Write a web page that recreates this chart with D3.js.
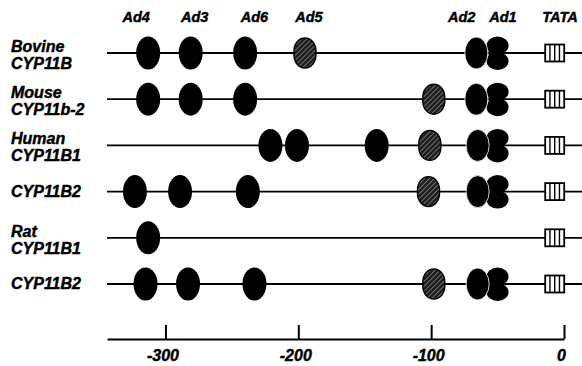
<!DOCTYPE html>
<html>
<head>
<meta charset="utf-8">
<script src="https://cdn.jsdelivr.net/npm/d3@7"></script>
<style>
  body { margin: 0; background: #fff; }
  text { font-family: "Liberation Sans", Arial, sans-serif; font-weight: bold; font-style: italic; fill: #000; stroke: #000; stroke-width: 0.45px; }
</style>
</head>
<body>
<script>
// promoter rows, top to bottom
const rowNames = ["Bovine CYP11B", "Mouse CYP11b-2", "Human CYP11B1", "Human CYP11B2", "Rat CYP11B1", "Rat CYP11B2"];
const rowLabelLines = [["Bovine", "CYP11B"], ["Mouse", "CYP11b-2"], ["Human", "CYP11B1"], ["CYP11B2"], ["Rat", "CYP11B1"], ["CYP11B2"]];

// element positions in bp upstream of the start site
const solidSites = [[-313, -281, -240], [-313, -281, -240], [-221, -201, -141], [-323, -289, -238], [-313], [-315, -283, -233]];
const hatchedSites = [[-195], [-98], [-101], [-102], [], [-98]];
const ad2Sites = [-66, -66, -65, -65, null, -65];
const ad1Sites = [-50, -50, -50, -50, null, -50];
const tataSites = [-7, -7, -7, -7, -7, -7];

const siteLabels = ["Ad4", "Ad3", "Ad6", "Ad5", "Ad2", "Ad1", "TATA"];
const siteLabelPos = [-322, -278, -233, -192, -77, -46, -3];

const axisTicks = [-300, -200, -100, 0];
const bpDomain = [-344, 0];

const width = 582;
const height = 366;

const svg = d3.select('body').append('svg')
  .attr('width', width)
  .attr('height', height);

const x = d3.scaleLinear().domain(bpDomain).range([107, 564]);
const y = d3.scalePoint().domain(rowNames).range([53, 284]);

// hatch pattern for Ad5-type elements
const defs = svg.append('defs');
const pat = defs.append('pattern')
  .attr('id', 'hatch')
  .attr('patternUnits', 'userSpaceOnUse')
  .attr('width', 3.5)
  .attr('height', 3.5)
  .attr('patternTransform', 'rotate(45)');
pat.append('rect').attr('width', 3.5).attr('height', 3.5).attr('fill', '#1e1e1e');
pat.append('line')
  .attr('x1', 0).attr('y1', 0).attr('x2', 0).attr('y2', 3.5)
  .attr('stroke', '#bdbdbd').attr('stroke-width', 1);

// top labels
svg.append('g').selectAll('text')
  .data(siteLabels)
  .enter().append('text')
  .attr('x', (d, i) => x(siteLabelPos[i]))
  .attr('y', 22)
  .attr('text-anchor', 'middle')
  .attr('font-size', 14.5)
  .text(d => d);

const rows = svg.append('g').selectAll('.row')
  .data(rowNames)
  .enter().append('g')
  .attr('class', 'row')
  .attr('transform', d => `translate(0,${y(d)})`);

// row labels
rows.append('text')
  .attr('font-size', 16)
  .each(function(d, i) {
    const lines = rowLabelLines[i];
    const t = d3.select(this);
    lines.forEach((s, j) => {
      t.append('tspan')
        .attr('x', 11)
        .attr('y', lines.length === 1 ? 5 : (j === 0 ? -1 : 16))
        .text(s);
    });
  });

// baseline
rows.append('line')
  .attr('x1', x(bpDomain[0]))
  .attr('x2', width)
  .attr('stroke', '#000')
  .attr('stroke-width', 1.8);

rows.each(function(d, i) {
  const g = d3.select(this);

  // solid sites
  g.selectAll('.solid')
    .data(solidSites[i])
    .enter().append('ellipse')
    .attr('class', 'solid')
    .attr('cx', v => x(v))
    .attr('rx', 12)
    .attr('ry', 16.5)
    .attr('fill', '#000');

  // hatched sites
  g.selectAll('.hatched')
    .data(hatchedSites[i])
    .enter().append('rect')
    .attr('class', 'hatched')
    .attr('x', v => x(v) - 11)
    .attr('y', -15)
    .attr('width', 22)
    .attr('height', 30)
    .attr('rx', 11)
    .attr('ry', 13)
    .attr('fill', 'url(#hatch)')
    .attr('stroke', '#000')
    .attr('stroke-width', 1.4);

  if (ad1Sites[i] != null) {
    const cx = x(ad1Sites[i]);
    g.append('ellipse').attr('cx', cx).attr('cy', -7.5).attr('rx', 11).attr('ry', 9).attr('fill', '#000');
    g.append('ellipse').attr('cx', cx).attr('cy', 8).attr('rx', 11).attr('ry', 9).attr('fill', '#000');
    g.append('rect').attr('x', cx - 9).attr('y', -4).attr('width', 14).attr('height', 8).attr('fill', '#000');
  }
  if (ad2Sites[i] != null) {
    g.append('ellipse')
      .attr('cx', x(ad2Sites[i]))
      .attr('rx', 11.5)
      .attr('ry', 16)
      .attr('fill', '#000')
      .attr('stroke', '#fff')
      .attr('stroke-width', 0.8);
  }

  // TATA box
  const tx = x(tataSites[i]);
  const box = g.append('g').attr('transform', `translate(${tx - 9.5},-8.5)`);
  box.append('rect')
    .attr('width', 19)
    .attr('height', 17)
    .attr('fill', '#fff')
    .attr('stroke', '#000')
    .attr('stroke-width', 1.8);
  box.selectAll('line')
    .data([1, 2, 3])
    .enter().append('line')
    .attr('x1', k => k * 19 / 4)
    .attr('x2', k => k * 19 / 4)
    .attr('y1', 0)
    .attr('y2', 17)
    .attr('stroke', '#000')
    .attr('stroke-width', 1.4);
});

// bp axis
const axis = svg.append('g')
  .attr('transform', 'translate(0,339)')
  .call(d3.axisBottom(x)
    .tickValues(axisTicks)
    .tickFormat(d => String(d))
    .tickSizeInner(-14)
    .tickSizeOuter(0)
    .tickPadding(11));

axis.attr('font-family', null).attr('font-size', null);
axis.select('.domain').attr('stroke-width', 2);
axis.selectAll('.tick line').attr('stroke-width', 2);
axis.selectAll('.tick text')
  .attr('font-size', 16)
  .attr('dx', -3)
  .attr('fill', '#000');
</script>
</body>
</html>
